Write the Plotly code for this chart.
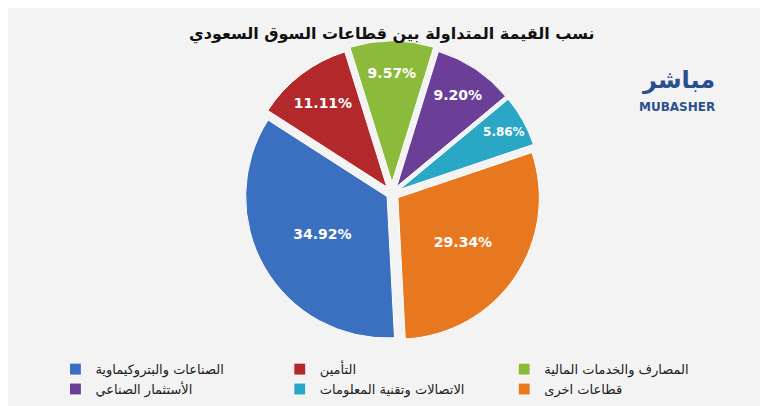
import plotly.graph_objects as go

labels = ["الصناعات والبتروكيماوية", "التأمين", "المصارف والخدمات المالية",
          "الأستثمار الصناعي", "الاتصالات وتقنية المعلومات", "قطاعات اخرى"]
values = [34.92, 11.11, 9.57, 9.20, 5.86, 29.34]
colors = ["#3b70c0", "#b3292b", "#8cbb3b", "#6b3f98", "#2ba7c6", "#e8781f"]
texts = ["<b>34.92%</b>", "<b>11.11%</b>", "<b>9.57%</b>", "<b>9.20%</b>", "<b>5.86%</b>", "<b>29.34%</b>"]

fig = go.Figure(go.Pie(
    labels=labels, values=values, text=texts, textinfo="text",
    sort=False, direction="clockwise", rotation=177,
    marker=dict(colors=colors, line=dict(color="#ffffff", width=1)),
    pull=[0.04, 0.06, 0.08, 0.06, 0.06, 0.05],
    textposition="inside",
    textfont=dict(color="white", size=14, family="DejaVu Sans"),
    insidetextorientation="horizontal",
    domain=dict(x=[0.1, 0.9], y=[0.14, 0.94]),
))
fig.update_layout(
    width=768, height=406,
    margin=dict(l=10, r=10, t=10, b=10),
    paper_bgcolor="#f3f3f3",
    font=dict(family="DejaVu Sans"),
    showlegend=True,
    legend=dict(orientation="h", x=0.05, y=0.12, xanchor="left", yanchor="top",
                entrywidthmode="fraction", entrywidth=0.3, font=dict(size=13, color="#222")),
    annotations=[
        dict(text="<b>نسب القيمة المتداولة بين قطاعات السوق السعودي</b>", x=0.5, y=0.99,
             xref="paper", yref="paper", showarrow=False, font=dict(size=16, color="#111"),
             yanchor="top"),
        dict(text="<b>مباشر</b>", x=0.935, y=0.88, xref="paper", yref="paper", showarrow=False,
             font=dict(size=24, color="#2a4f8f")),
        dict(text="<b>MUBASHER</b>", x=0.935, y=0.79, xref="paper", yref="paper", showarrow=False,
             font=dict(size=12, color="#2a4f8f")),
    ],
)
fig.write_html("out.html")
